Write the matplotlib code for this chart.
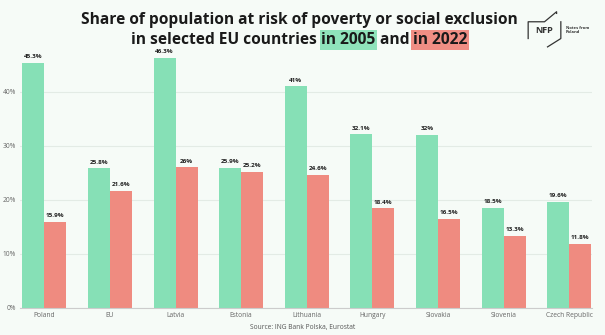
import matplotlib.pyplot as plt
import numpy as np

countries = ['Poland', 'EU', 'Latvia', 'Estonia', 'Lithuania', 'Hungary', 'Slovakia', 'Slovenia', 'Czech Republic']
share_2005 = [45.3, 25.8, 46.3, 25.9, 41, 32.1, 32, 18.5, 19.6]
share_2022 = [15.9, 21.6, 26, 25.2, 24.6, 18.4, 16.5, 13.3, 11.8]
yticks = [0, 10, 20, 30, 40]

bg = '#f6fbf7'
green = '#86e0b6'
red = '#ef8b80'

plt.rcParams['font.family'] = ['Open Sans', 'DejaVu Sans']

fig = plt.figure(figsize=(6.05, 3.35), dpi=100, facecolor=bg)
ax = fig.add_axes([0.033, 0.081, 0.946, 0.774], facecolor=bg)

x = np.arange(len(countries))
w = 0.335
b1 = ax.bar(x - w / 2, share_2005, w, color=green, zorder=2)
b2 = ax.bar(x + w / 2, share_2022, w, color=red, zorder=2)

def fmt(v):
    return f'{v:g}%'

# value labels
for bars, vals in ((b1, share_2005), (b2, share_2022)):
    for b, v in zip(bars, vals):
        ax.text(b.get_x() + b.get_width() / 2, v + 0.7, fmt(v), ha='center', va='bottom',
                fontsize=4.6, fontweight='bold', color='#222222')

ax.set_xlim(-0.37, 8.35)
ax.set_ylim(0, 48)
ax.set_yticks(yticks)
ax.set_yticklabels([f'{t}%' for t in yticks])
ax.set_xticks(x)
ax.set_xticklabels(countries)
ax.tick_params(axis='both', length=0, labelsize=4.8, labelcolor='#666666')
ax.tick_params(axis='y', pad=3)
ax.tick_params(axis='x', pad=3)
ax.grid(axis='y', color='#e3ebe5', linewidth=0.8, zorder=0)
for s in ['top', 'right', 'left']:
    ax.spines[s].set_visible(False)
ax.spines['bottom'].set_color('#cccccc')
ax.spines['bottom'].set_linewidth(0.8)

# title
fig.text(0.495, 0.927, 'Share of population at risk of poverty or social exclusion',
         ha='center', va='baseline', fontsize=11.2, fontweight='bold', color='#1a1a1a')

parts = [('in selected EU countries ', None), ('in 2005', '#8fe3bb'), (' and ', None), ('in 2022', '#f08e84')]
fig.canvas.draw()
renderer = fig.canvas.get_renderer()
arts = []
for txt, c in parts:
    t = fig.text(0, 0.869, txt, ha='left', va='baseline', fontsize=11.2, fontweight='bold', color='#1a1a1a')
    if c:
        t.set_bbox(dict(facecolor=c, edgecolor='none', pad=1.2))
    arts.append(t)
widths = [a.get_window_extent(renderer).width for a in arts]
total = sum(widths)
xpos = 0.495 * fig.bbox.width - total / 2
for a, wd in zip(arts, widths):
    a.set_x(xpos / fig.bbox.width)
    xpos += wd

# logo
fig.text(0.9, 0.91, 'NFP', ha='center', va='center', fontsize=6.5, fontweight='bold', color='#333333')
fig.lines.append(plt.Line2D([0.873, 0.873, 0.9, 0.92, 0.92], [0.885, 0.935, 0.935, 0.965, 0.96],
                            transform=fig.transFigure, color='#333333', linewidth=0.9))
fig.lines.append(plt.Line2D([0.927, 0.927, 0.905], [0.935, 0.885, 0.86],
                            transform=fig.transFigure, color='#333333', linewidth=0.9))
fig.text(0.935, 0.91, 'Notes from\nPoland', ha='left', va='center', fontsize=3, fontweight='bold',
         color='#333333', linespacing=1.2)

fig.text(0.5, 0.017, 'Source: ING Bank Polska, Eurostat', ha='center', va='baseline',
         fontsize=4.8, color='#555555')

fig.savefig('out.png', dpi=100, facecolor=bg)
